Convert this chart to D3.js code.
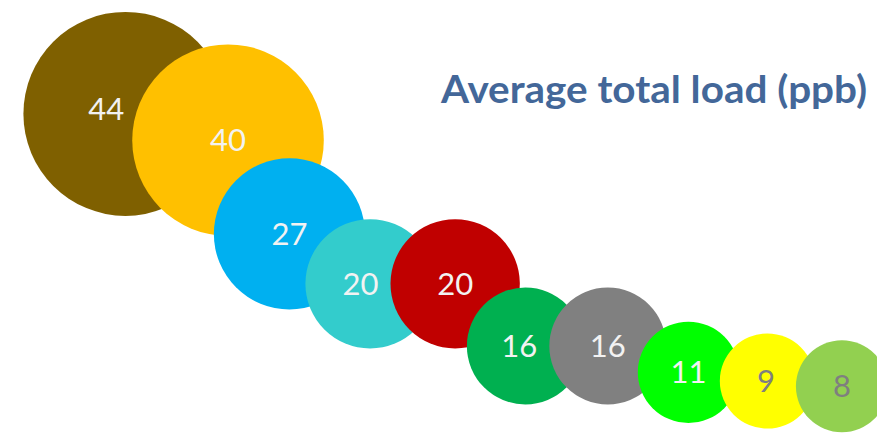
<!DOCTYPE html>
<html>
<head>
<meta charset="utf-8">
<script src="https://cdn.jsdelivr.net/npm/d3@7"></script>
<style>
  html, body { margin: 0; padding: 0; background: #ffffff; }
  svg { display: block; }
</style>
</head>
<body>
<svg id="chart" width="877" height="438"></svg>
<script>
// Average total load of each source, in ppb (largest first)
const loads = [44, 40, 27, 20, 20, 16, 16, 11, 9, 8];

// Bubble placement in chart units (x: 0-10 across, y: 0-5 up)
const xPos = [1.43, 2.60, 3.30, 4.22, 5.19, 5.99, 6.93, 7.85, 8.75, 9.60];
const yPos = [3.70, 3.40, 2.33, 1.76, 1.76, 1.05, 1.05, 0.75, 0.65, 0.59];

// Bubble fills and label colours
const fills = ["#7f6000", "#ffc000", "#00b0f0", "#33cccc", "#c00000",
               "#00b050", "#808080", "#00ff00", "#ffff00", "#92d050"];
const labelColors = ["#f2f2f2", "#f2f2f2", "#f2f2f2", "#f2f2f2", "#f2f2f2",
                     "#f2f2f2", "#f2f2f2", "#f2f2f2", "#7f7f7f", "#7f7f7f"];

const titleText = "Average total load (ppb)";

const W = 877, H = 438;
const svg = d3.select("#chart");

const x = d3.scaleLinear().domain([0, 10]).range([0, W]);
const y = d3.scaleLinear().domain([0, 5]).range([H, 0]);
const r = d3.scaleLinear().domain([8, 44]).range([46, 102]);

const data = loads.map((v, i) => ({
  v, cx: x(xPos[i]), cy: y(yPos[i]), rad: r(loads[i]),
  fill: fills[i], label: labelColors[i]
}));

// Where the following bubble hides a centre, push the label back
// into the visible part, away from that neighbour.
data.forEach((d, i) => {
  d.lx = d.cx; d.ly = d.cy;
  const n = data[i + 1];
  if (!n) return;
  const dx = d.cx - n.cx, dy = d.cy - n.cy;
  const dist = Math.hypot(dx, dy);
  const push = n.rad + 30 - dist;
  if (push > 0) {
    d.lx += dx / dist * push;
    d.ly += dy / dist * push;
  }
});

// Bubbles drawn largest first so each smaller one sits on top of its neighbour
svg.append("g").attr("class", "bubbles")
  .selectAll("circle")
  .data(data)
  .join("circle")
  .attr("cx", d => d.cx)
  .attr("cy", d => d.cy)
  .attr("r", d => d.rad)
  .attr("fill", d => d.fill);

// Value labels on top of every bubble
svg.append("g").attr("class", "labels")
  .selectAll("text")
  .data(data)
  .join("text")
  .attr("x", d => d.lx)
  .attr("y", d => d.ly)
  .attr("text-anchor", "middle")
  .attr("dy", "0.36em")
  .attr("font-family", "Lato, 'Open Sans', sans-serif")
  .attr("font-size", 31)
  .attr("fill", d => d.label)
  .text(d => d.v);

// Title
svg.append("text")
  .attr("x", 441)
  .attr("y", 103)
  .attr("font-family", "Lato, 'Open Sans', sans-serif")
  .attr("font-weight", "bold")
  .attr("font-size", 38)
  .attr("fill", "#436799")
  .attr("textLength", 426)
  .attr("lengthAdjust", "spacingAndGlyphs")
  .text(titleText);
</script>
</body>
</html>
